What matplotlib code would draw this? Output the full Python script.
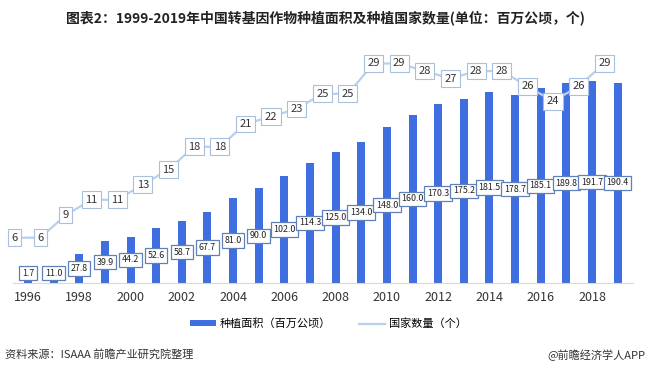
import matplotlib
matplotlib.use("Agg")
import matplotlib.pyplot as plt
import numpy as np

plt.rcParams['font.family'] = ['Noto Sans CJK SC', 'DejaVu Sans']

years = list(range(1996, 2020))
area = [1.7, 11.0, 27.8, 39.9, 44.2, 52.6, 58.7, 67.7, 81.0, 90.0, 102.0, 114.3,
        125.0, 134.0, 148.0, 160.0, 170.3, 175.2, 181.5, 178.7, 185.1, 189.8, 191.7, 190.4]
countries = [6, 6, 9, 11, 11, 13, 15, 18, 18, 21, 22, 23,
             25, 25, 29, 29, 28, 27, 28, 28, 26, 24, 26, 29]
tick_years = list(range(1996, 2019, 2))

bar_color = '#3f6ee0'
line_color = '#b9d0ec'

fig = plt.figure(figsize=(6.5, 3.74), dpi=100)
ax = fig.add_axes([0.0194, 0.243, 0.9545, 0.65])
x = np.arange(len(years))

ax.bar(x, area, width=0.31, color=bar_color, zorder=2, label='种植面积（百万公顷）')
for xi, v in zip(x, area):
    ax.text(xi, max(v / 2, 9.5), f'{v:.1f}', ha='center', va='center', fontsize=6.4,
            color='#222222', zorder=5,
            bbox=dict(boxstyle='square,pad=0.3', fc='white', ec='#5f80b8', lw=0.9))

ax.set_xlim(-0.6, len(years) - 0.4)
ax.set_ylim(0, 231)
ax.set_yticks([])
for s in ['top', 'left', 'right']:
    ax.spines[s].set_visible(False)
ax.spines['bottom'].set_color('#d9d9d9')
ax.set_xticks([years.index(y) for y in tick_years])
ax.set_xticklabels([str(y) for y in tick_years], fontsize=9, color='#333333')
ax.tick_params(axis='x', length=0, pad=6)

ax2 = ax.twinx()
xl = x - 0.52
ax2.plot(xl, countries, color=line_color, lw=1.6, zorder=2, label='国家数量（个）')
for xi, v in zip(xl, countries):
    ax2.text(xi, v, str(v), ha='center', va='center', fontsize=8, color='#333333',
             zorder=5, bbox=dict(boxstyle='square,pad=0.3', fc='white', ec='#a9c0dd', lw=0.8))
ax2.set_ylim(0, 32.1)
ax2.set_yticks([])
for s in ['top', 'left', 'right', 'bottom']:
    ax2.spines[s].set_visible(False)

h1, l1 = ax.get_legend_handles_labels()
h2, l2 = ax2.get_legend_handles_labels()
fig.legend(h1 + h2, l1 + l2, loc='center', bbox_to_anchor=(0.505, 0.134), ncol=2,
           frameon=False, fontsize=8, handlelength=2.4, handleheight=0.5,
           columnspacing=2.5, handletextpad=0.3)

fig.text(0.5, 0.952, '图表2：1999-2019年中国转基因作物种植面积及种植国家数量(单位：百万公顷，个)',
         ha='center', va='center', fontsize=10, fontweight='bold', color='#222222')
fig.text(0.008, 0.051, '资料来源：ISAAA 前瞻产业研究院整理', ha='left', va='center',
         fontsize=8, color='#333333')
fig.text(0.993, 0.051, '@前瞻经济学人APP', ha='right', va='center', fontsize=8, color='#333333')

fig.savefig('out.png', dpi=100)
